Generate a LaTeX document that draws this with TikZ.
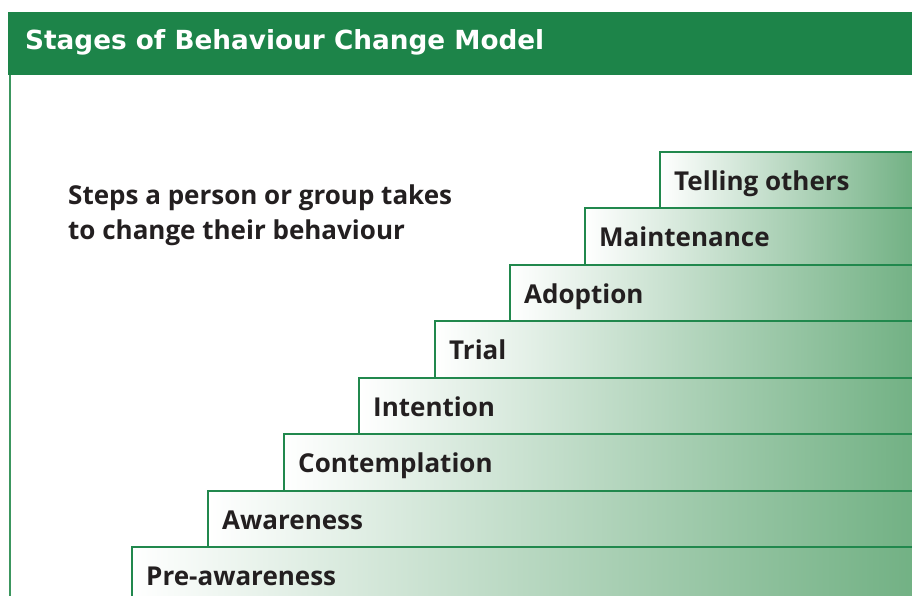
\documentclass[tikz,border=0pt]{standalone}
\usepackage{fontspec}
\newfontfamily\headfont{DejaVu Sans}
\newfontfamily\stepfont{Open Sans}
\definecolor{hdrgreen}{RGB}{29,132,73}
\definecolor{edgegreen}{RGB}{33,136,77}
\definecolor{framegreen}{RGB}{60,150,95}
\definecolor{endgreen}{RGB}{114,177,132}
\definecolor{txt}{RGB}{35,31,32}
\begin{document}
\begin{tikzpicture}[x=1pt,y=-1pt,
  stepbox/.style={shape=rectangle,anchor=north west,inner sep=0pt,outer sep=0pt,
     left color=white,right color=endgreen,draw=none},
  steplabel/.style={anchor=base west,inner sep=0pt,font=\stepfont\bfseries\fontsize{26}{30}\selectfont,text=txt},
  stepedge/.style={draw=edgegreen,line width=2.9pt}]
\useasboundingbox (0,0) rectangle (912,596);
\clip (0,0) rectangle (912,596);
% frame
\fill[hdrgreen] (8,12) rectangle (912,75);
\node[anchor=base west,inner sep=0pt,text=white,font=\headfont\bfseries\fontsize{26.3}{30}\selectfont] (title) at (25,50) {Stages of Behaviour Change Model};
\draw[framegreen,line width=2pt] (9.5,75) -- (9.5,600);
% subtitle
\node[anchor=base west,inner sep=0pt,align=left,text=txt,font=\stepfont\bfseries\fontsize{26}{34.5}\selectfont] (sub) at (68,239) {Steps a person or group takes\\to change their behaviour};
% steps
\foreach \i/\l/\t/\name in {8/660/152/Telling others,7/585/208/Maintenance,6/510/265/Adoption,5/435/321/Trial,4/359/378/Intention,3/284/434/Contemplation,2/208/491/Awareness,1/132/547/Pre-awareness}{
  \node[stepbox,minimum width={(912-\l)*1pt+2pt},minimum height={(600-\t)*1pt}] (s\i) at (\l,\t) {};
  \draw[stepedge] (s\i.south west) -- (s\i.north west) -- (s\i.north east);
  \node[steplabel] (l\i) at ([xshift=14pt,yshift=-38pt]s\i.north west) {\name};
}
\end{tikzpicture}
\end{document}
